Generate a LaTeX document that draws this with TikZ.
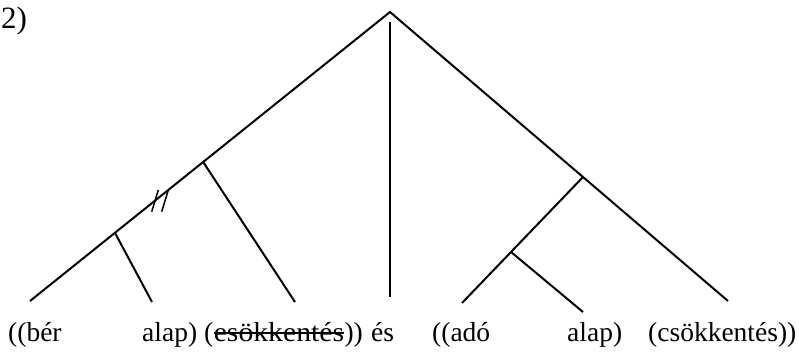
\documentclass[tikz,border=0pt]{standalone}
\usepackage{fontspec}
\setmainfont{Liberation Serif}
\usetikzlibrary{calc}
\begin{document}
\begin{tikzpicture}[x=1pt,y=-1pt,
  branch/.style={line width=2pt},
  lbl/.style={inner sep=0pt,anchor=base west,font=\fontsize{27.5}{30}\selectfont}]
\useasboundingbox (0,0) rectangle (799,359);
% main legs
\coordinate (apex) at (390,12);
\coordinate (cL) at (30,301);
\coordinate (cR) at (728,301);
\coordinate (midtop) at (390,22);
\coordinate (midbot) at (390,297);
\draw[branch] (cL) -- (apex) -- (cR);
\draw[branch] (midtop) -- (midbot);
% left inner branches
\coordinate (A) at ($(apex)!0.519!(cL)$);
\coordinate (Aend) at (295,302);
\coordinate (B) at ($(apex)!0.764!(cL)$);
\coordinate (Bend) at (152,302);
\draw[branch] (A) -- (Aend);
\draw[branch] (B) -- (Bend);
% double slash
\coordinate (s1a) at (158.3,190);
\coordinate (s1b) at (151.7,211.7);
\coordinate (s2a) at (168.3,190);
\coordinate (s2b) at (161.7,211.7);
\draw[line width=1.5pt] (s1a) -- (s1b);
\draw[line width=1.5pt] (s2a) -- (s2b);
% right inner branches
\coordinate (C) at ($(apex)!0.571!(cR)$);
\coordinate (Cend) at (462,303);
\coordinate (D) at ($(C)!0.595!(Cend)$);
\coordinate (Dend) at (583,312);
\draw[branch] (C) -- (Cend);
\draw[branch] (D) -- (Dend);
% labels
\node[lbl,font=\fontsize{31}{34}\selectfont] (num) at (1,28) {2)};
\node[lbl] (t1) at (8,341) {((bér};
\node[lbl] (t2) at (142,341) {alap)};
\node[lbl] (t3) at (204,341) {(};
\node[lbl,xscale=1.08] (t4) at (t3.base east) {esökkentés};
\node[lbl] (t5) at (t4.base east) {))};
\node[lbl] (t6) at (371,341) {és};
\node[lbl] (t7) at (432,341) {((adó};
\node[lbl] (t8) at (567,341) {alap)};
\node[lbl] (t9) at (648,341) {(csökkentés))};
\draw[line width=1.2pt] ($(t4.base west)+(0,-8)$) -- ($(t4.base east)+(0,-8)$);
\end{tikzpicture}
\end{document}
